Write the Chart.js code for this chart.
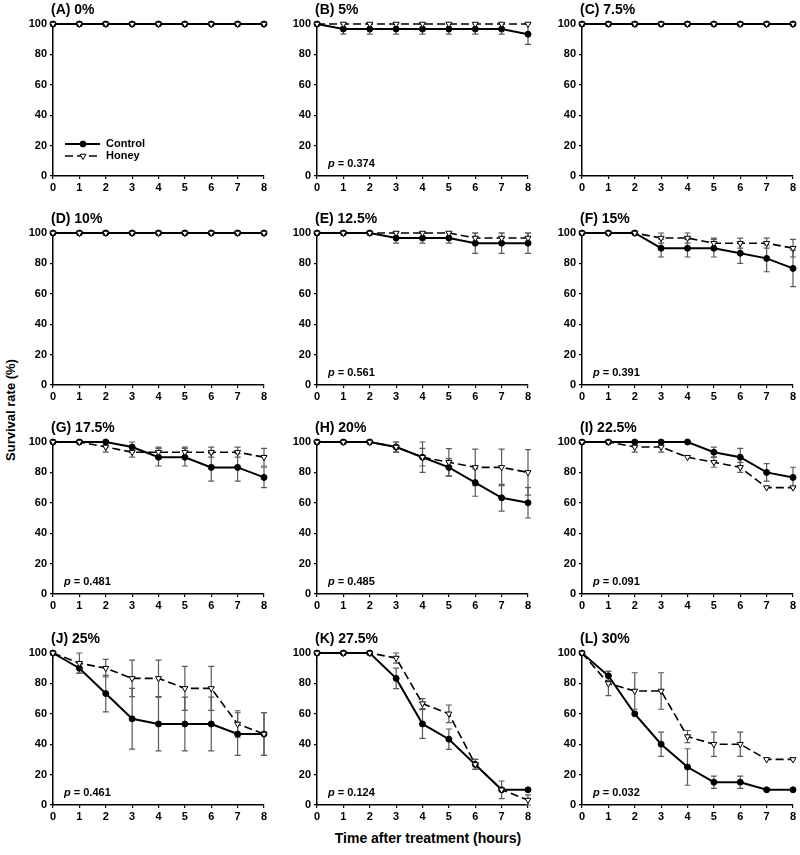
<!doctype html>
<html lang="en">
<head>
  <meta charset="utf-8">
  <title>Survival rate</title>
  <style>
    body { margin: 0; background: #fff; }
    #lienzo { position: relative; width: 800px; height: 855px; font-family: Arial, "Liberation Sans", sans-serif; }
    #lienzo canvas { position: absolute; }
    .eje { position: absolute; font-weight: bold; color: #000; white-space: nowrap; }
    #ejeY { left: 10px; top: 410px; font-size: 13px; transform: translate(-50%, -50%) rotate(-90deg); }
    #ejeX { left: 428px; top: 838px; font-size: 14px; transform: translate(-50%, -50%); }
  </style>
</head>
<body>
  <div id="lienzo">
    <div class="eje" id="ejeY">Survival rate (%)</div>
    <div class="eje" id="ejeX">Time after treatment (hours)</div>
  </div>

  <script src="https://cdn.jsdelivr.net/npm/chart.js"></script>
  <script>
    // data
    const hours = [0, 1, 2, 3, 4, 5, 6, 7, 8];
    const yTicks = [0, 20, 40, 60, 80, 100];
    const seriesNames = ['Control', 'Honey'];
    const panelTitles = ['(A) 0%', '(B) 5%', '(C) 7.5%', '(D) 10%', '(E) 12.5%', '(F) 15%',
      '(G) 17.5%', '(H) 20%', '(I) 22.5%', '(J) 25%', '(K) 27.5%', '(L) 30%'];
    const pValues = [null, '0.374', null, null, '0.561', '0.391', '0.481', '0.485', '0.091', '0.461', '0.124', '0.032'];

    const controlMean = [
      [100, 100, 100, 100, 100, 100, 100, 100, 100],
      [100, 96.7, 96.7, 96.7, 96.7, 96.7, 96.7, 96.7, 93.3],
      [100, 100, 100, 100, 100, 100, 100, 100, 100],
      [100, 100, 100, 100, 100, 100, 100, 100, 100],
      [100, 100, 100, 96.7, 96.7, 96.7, 93.3, 93.3, 93.3],
      [100, 100, 100, 90, 90, 90, 86.7, 83.3, 76.7],
      [100, 100, 100, 96.7, 90, 90, 83.3, 83.3, 76.7],
      [100, 100, 100, 96.7, 90, 83.3, 73.3, 63.3, 60],
      [100, 100, 100, 100, 100, 93.3, 90, 80, 76.7],
      [100, 90, 73.3, 56.7, 53.3, 53.3, 53.3, 46.7, 46.7],
      [100, 100, 100, 83.3, 53.3, 43.3, 26.7, 10, 10],
      [100, 85, 60, 40, 25, 15, 15, 10, 10]
    ];
    const controlSE = [
      [0, 0, 0, 0, 0, 0, 0, 0, 0],
      [0, 3.3, 3.3, 3.3, 3.3, 3.3, 3.3, 3.3, 6.7],
      [0, 0, 0, 0, 0, 0, 0, 0, 0],
      [0, 0, 0, 0, 0, 0, 0, 0, 0],
      [0, 0, 0, 3.3, 3.3, 3.3, 6.7, 6.7, 6.7],
      [0, 0, 0, 5.8, 5.8, 5.8, 6.7, 8.8, 12],
      [0, 0, 0, 3.3, 5.8, 5.8, 9, 9, 6.7],
      [0, 0, 0, 3.3, 5.8, 5.8, 9, 8.8, 10],
      [0, 0, 0, 0, 0, 3.3, 5.8, 5.8, 6.7],
      [0, 3.3, 12, 20, 17.7, 17.7, 17.7, 14, 14],
      [0, 0, 0, 6.7, 9.5, 6.7, 3.3, 0, 0],
      [0, 3, 0, 8, 12, 4, 4, 0, 0]
    ];
    const honeyMean = [
      [100, 100, 100, 100, 100, 100, 100, 100, 100],
      [100, 100, 100, 100, 100, 100, 100, 100, 100],
      [100, 100, 100, 100, 100, 100, 100, 100, 100],
      [100, 100, 100, 100, 100, 100, 100, 100, 100],
      [100, 100, 100, 100, 100, 100, 96.7, 96.7, 96.7],
      [100, 100, 100, 96.7, 96.7, 93.3, 93.3, 93.3, 90],
      [100, 100, 96.7, 93.3, 93.3, 93.3, 93.3, 93.3, 90],
      [100, 100, 100, 96.7, 90, 86.7, 83.3, 83.3, 80],
      [100, 100, 96.7, 96.7, 90, 86.7, 83.3, 70, 70],
      [100, 93.3, 90, 83.3, 83.3, 76.7, 76.7, 53.3, 46.7],
      [100, 100, 100, 96.7, 66.7, 60, 26.7, 10, 3.3],
      [100, 80, 75, 75, 45, 40, 40, 30, 30]
    ];
    const honeySE = [
      [0, 0, 0, 0, 0, 0, 0, 0, 0],
      [0, 0, 0, 0, 0, 0, 0, 0, 0],
      [0, 0, 0, 0, 0, 0, 0, 0, 0],
      [0, 0, 0, 0, 0, 0, 0, 0, 0],
      [0, 0, 0, 0, 0, 0, 3.3, 3.3, 3.3],
      [0, 0, 0, 3.3, 3.3, 3.3, 3.3, 3.3, 5.8],
      [0, 0, 3.3, 3.3, 3.3, 3.3, 3.3, 3.3, 5.8],
      [0, 0, 0, 3.3, 10, 9, 12, 12, 15],
      [0, 0, 3.3, 3.3, 0, 3.3, 3.3, 0, 0],
      [0, 6.7, 5.8, 12, 12, 14.5, 14.5, 8.7, 14],
      [0, 0, 0, 3.3, 3.3, 5.8, 3.3, 5.8, 3.3],
      [0, 8, 12, 12, 4, 8, 8, 0, 0]
    ];

    // layout of the 3 x 4 grid (pixel position of each plot area)
    const colX = [53, 317, 582];
    const rowTop = [24, 233, 442, 653];
    const plotW = 211, plotH = 152;
    const padL = 45, padR = 10, padT = 26, padB = 22;
    const fuente = 'Arial, "Liberation Sans", sans-serif';

    // error bars (mean +/- SE) drawn under the markers
    const errorBars = {
      id: 'errorBars',
      beforeDatasetsDraw(chart) {
        const ctx = chart.ctx, xs = chart.scales.x, ys = chart.scales.y;
        ctx.save();
        ctx.strokeStyle = '#5a5a5a';
        ctx.lineWidth = 1.2;
        chart.data.datasets.forEach(ds => {
          ds.err.forEach((e, i) => {
            if (!e) return;
            const x = xs.getPixelForValue(ds.data[i].x);
            const yHi = ys.getPixelForValue(ds.data[i].y + e);
            const yLo = ys.getPixelForValue(ds.data[i].y - e);
            ctx.beginPath();
            ctx.moveTo(x, yHi); ctx.lineTo(x, yLo);
            ctx.moveTo(x - 3, yHi); ctx.lineTo(x + 3, yHi);
            ctx.moveTo(x - 3, yLo); ctx.lineTo(x + 3, yLo);
            ctx.stroke();
          });
        });
        ctx.restore();
      }
    };

    // panel title, p value and (panel A only) the legend
    const panelText = {
      id: 'panelText',
      afterDraw(chart, args, opts) {
        const ctx = chart.ctx, a = chart.chartArea;
        ctx.save();
        ctx.fillStyle = '#000';
        ctx.textBaseline = 'middle';
        ctx.font = 'bold 14px ' + fuente;
        ctx.fillText(opts.title, a.left - 2, a.top - 14);

        if (opts.p) {
          ctx.font = 'italic bold 11px ' + fuente;
          ctx.fillText('p', a.left + 11, a.bottom - 12);
          const w = ctx.measureText('p').width;
          ctx.font = 'bold 11px ' + fuente;
          ctx.fillText(' = ' + opts.p, a.left + 11 + w, a.bottom - 12);
        }

        if (opts.legend) {
          const ly = [a.bottom - 32, a.bottom - 20];
          chart.data.datasets.forEach((ds, k) => {
            ctx.strokeStyle = '#000';
            ctx.lineWidth = ds.borderWidth;
            ctx.setLineDash(ds.borderDash || []);
            ctx.beginPath();
            ctx.moveTo(a.left + 12, ly[k]);
            ctx.lineTo(a.left + 47, ly[k]);
            ctx.stroke();
            ctx.setLineDash([]);
            ctx.fillStyle = ds.pointBackgroundColor;
            ctx.lineWidth = 1;
            Chart.helpers.drawPoint(ctx, {
              pointStyle: ds.pointStyle, rotation: ds.pointRotation || 0,
              radius: ds.pointRadius, borderWidth: 1
            }, a.left + 30, ly[k]);
            ctx.fillStyle = '#000';
            ctx.font = 'bold 11px ' + fuente;
            ctx.fillText(ds.label, a.left + 53, ly[k]);
          });
        }
        ctx.restore();
      }
    };

    function ejeConfig(min, max, ticks, isX) {
      return {
        type: 'linear',
        min: min,
        max: max,
        afterFit: s => { if (isX) s.height = padB; else s.width = padL; },
        afterBuildTicks: s => { s.ticks = ticks.map(v => ({ value: v })); },
        grid: { drawOnChartArea: false, drawTicks: true, tickLength: 3, color: '#000', lineWidth: 1.2 },
        border: { color: '#000', width: 1.5 },
        ticks: {
          color: '#000',
          font: { family: fuente, size: 11, weight: 'bold' },
          padding: isX ? 2 : 3,
          maxRotation: 0,
          autoSkip: false
        }
      };
    }

    const lienzo = document.getElementById('lienzo');

    panelTitles.forEach((titulo, n) => {
      const col = n % 3, row = Math.floor(n / 3);
      const cv = document.createElement('canvas');
      cv.width = padL + plotW + padR;
      cv.height = padT + plotH + padB;
      cv.style.left = (colX[col] - padL) + 'px';
      cv.style.top = (rowTop[row] - padT) + 'px';
      lienzo.appendChild(cv);

      new Chart(cv, {
        type: 'line',
        data: {
          datasets: [
            {
              label: seriesNames[0],
              data: hours.map((h, i) => ({ x: h, y: controlMean[n][i] })),
              err: controlSE[n],
              borderColor: '#000',
              borderWidth: 2,
              pointStyle: 'circle',
              pointRadius: 3,
              pointBackgroundColor: '#000',
              pointBorderColor: '#000',
              pointBorderWidth: 1,
              order: 1,
              clip: false
            },
            {
              label: seriesNames[1],
              data: hours.map((h, i) => ({ x: h, y: honeyMean[n][i] })),
              err: honeySE[n],
              borderColor: '#000',
              borderWidth: 1.6,
              borderDash: [8, 4],
              pointStyle: 'triangle',
              pointRotation: 180,
              pointRadius: 3.5,
              pointBackgroundColor: '#fff',
              pointBorderColor: '#000',
              pointBorderWidth: 1,
              order: 0,
              clip: false
            }
          ]
        },
        options: {
          responsive: false,
          animation: false,
          events: [],
          layout: { padding: { left: 0, right: padR, top: padT, bottom: 0 } },
          scales: {
            x: ejeConfig(0, 8, hours, true),
            y: ejeConfig(0, 100, yTicks, false)
          },
          plugins: {
            legend: { display: false },
            tooltip: { enabled: false },
            panelText: { title: titulo, p: pValues[n], legend: n === 0 }
          }
        },
        plugins: [errorBars, panelText]
      });
    });
  </script>
</body>
</html>
